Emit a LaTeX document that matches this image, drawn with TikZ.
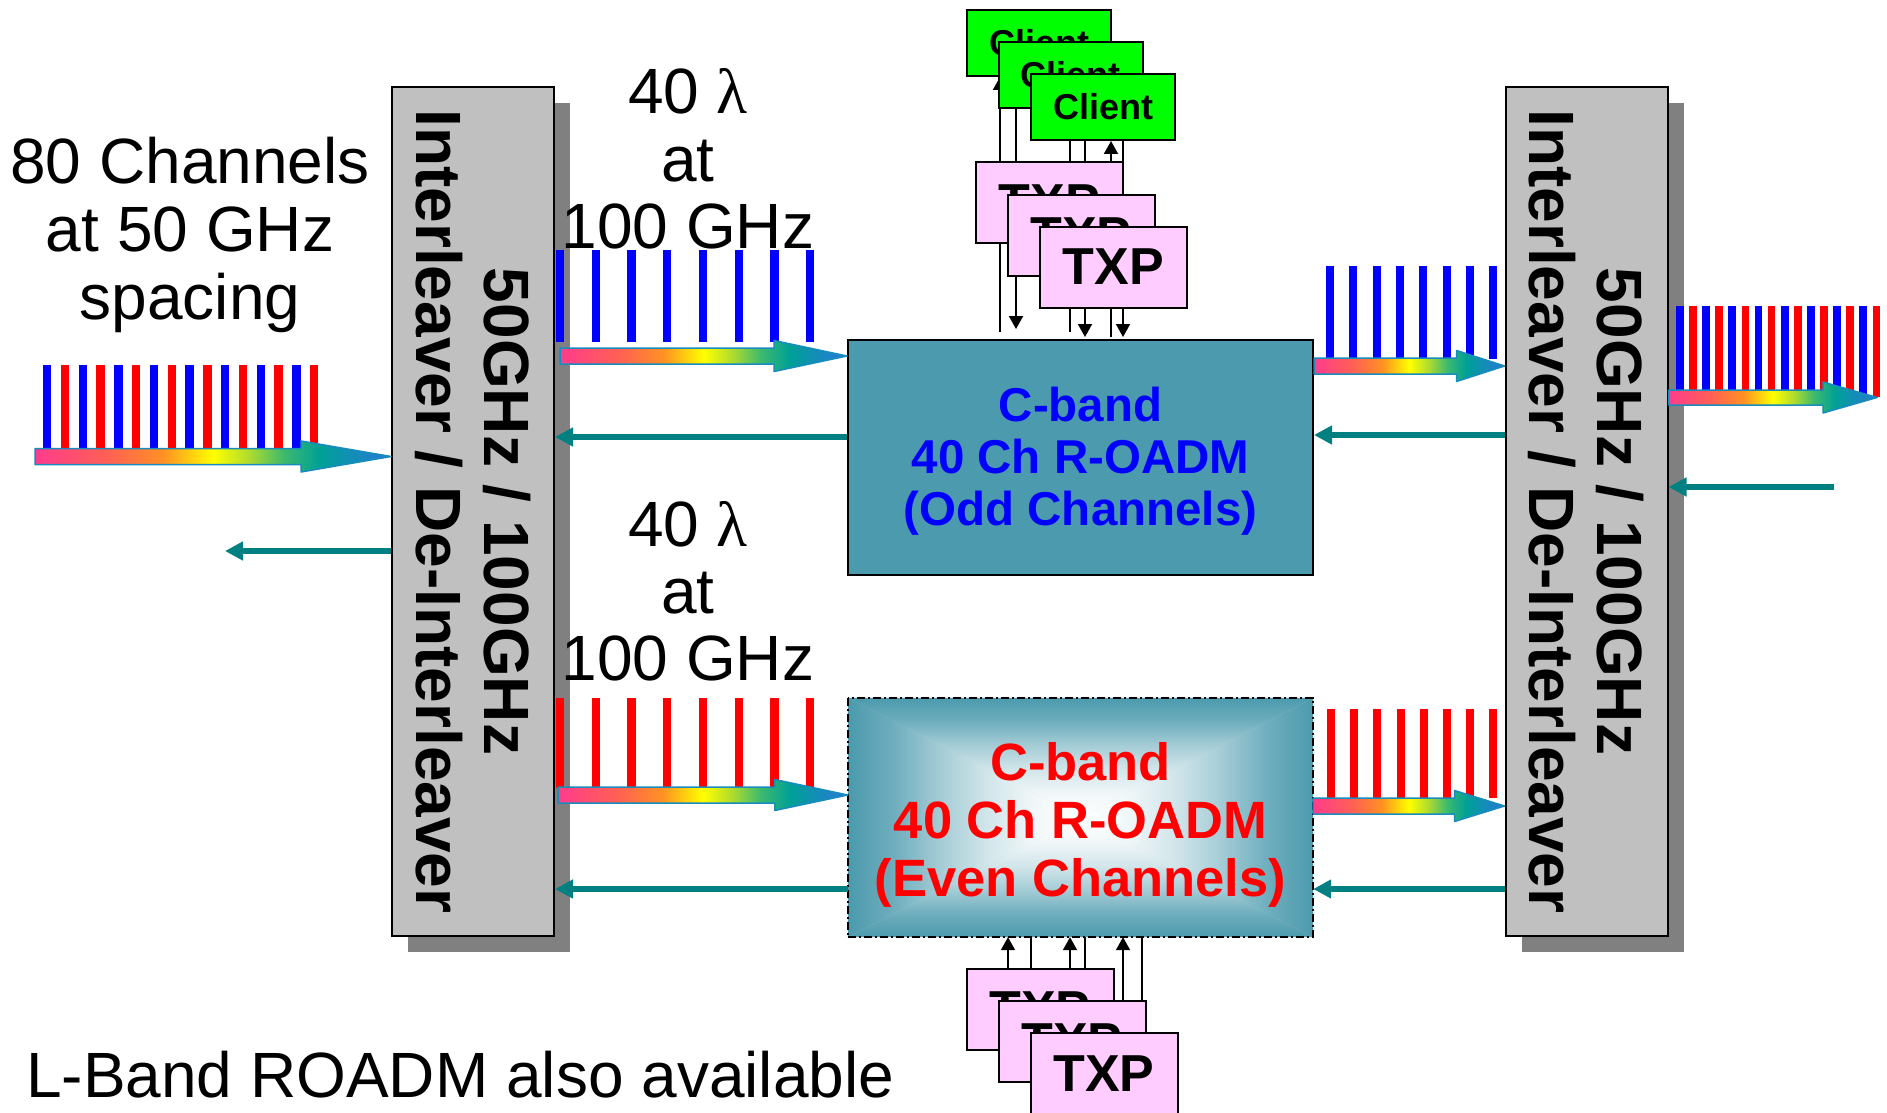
\documentclass[tikz,border=0pt]{standalone}
\usepackage{fontspec}
\setmainfont{Liberation Sans}
\newfontfamily\serifgreek{Liberation Serif}
\usetikzlibrary{arrows.meta,calc,shadows}
\pgfdeclarelayer{bg}
\pgfdeclarelayer{links}
\pgfsetlayers{bg,links,main}

\definecolor{roadm}{RGB}{75,154,173}
\definecolor{shadowgray}{RGB}{128,128,128}
\definecolor{ilvgray}{RGB}{192,192,192}
\definecolor{clientgreen}{RGB}{0,255,0}
\definecolor{txppink}{RGB}{255,204,255}
\definecolor{retteal}{RGB}{0,128,128}
\definecolor{arrowedge}{RGB}{25,140,190}
\definecolor{rbA}{RGB}{255,60,140}
\definecolor{rbB}{RGB}{255,95,85}
\definecolor{rbC}{RGB}{255,145,35}
\definecolor{rbD}{RGB}{255,255,0}
\definecolor{rbE}{RGB}{175,220,45}
\definecolor{rbF}{RGB}{60,185,110}
\definecolor{rbG}{RGB}{0,160,150}
\definecolor{rbH}{RGB}{40,120,220}

\pgfdeclarehorizontalshading{rainbow}{100bp}{color(0bp)=(rbA); color(25bp)=(rbA); color(35bp)=(rbB); color(43bp)=(rbC); color(50bp)=(rbD); color(55bp)=(rbE); color(60bp)=(rbF); color(65bp)=(rbG); color(75bp)=(rbH); color(100bp)=(rbH)}
\pgfdeclarehorizontalshading{hshE}{100bp}{color(0bp)=(roadm); color(25bp)=(roadm); color(35bp)=(roadm!80!white); color(45bp)=(roadm!50!white); color(55bp)=(roadm!25!white); color(65bp)=(roadm!8!white); color(75bp)=(white); color(100bp)=(white)}
\pgfdeclarehorizontalshading{hshC}{100bp}{color(0bp)=(white); color(25bp)=(white); color(35bp)=(roadm!8!white); color(45bp)=(roadm!25!white); color(55bp)=(roadm!50!white); color(65bp)=(roadm!80!white); color(75bp)=(roadm); color(100bp)=(roadm)}
\pgfdeclareverticalshading{vshE}{100bp}{color(0bp)=(roadm); color(25bp)=(roadm); color(35bp)=(roadm!80!white); color(45bp)=(roadm!50!white); color(55bp)=(roadm!25!white); color(65bp)=(roadm!8!white); color(75bp)=(white); color(100bp)=(white)}
\pgfdeclareverticalshading{vshC}{100bp}{color(0bp)=(white); color(25bp)=(white); color(35bp)=(roadm!8!white); color(45bp)=(roadm!25!white); color(55bp)=(roadm!50!white); color(65bp)=(roadm!80!white); color(75bp)=(roadm); color(100bp)=(roadm)}

\newcommand{\bigfont}{\fontsize{64}{67}\selectfont}
\newcommand{\rainarrow}[5]{%
  \shadedraw[shading=rainbow, draw=arrowedge, line width=1.5pt, line join=round]
    ($(#1)+(0,-#4)$) -- ($(#2)+(-#3,-#4)$) -- ($(#2)+(-#3,-#5)$) -- (#2)
    -- ($(#2)+(-#3,#5)$) -- ($(#2)+(-#3,#4)$) -- ($(#1)+(0,#4)$) -- cycle;}

\tikzset{
  ilv/.style={draw=black, line width=2pt, fill=ilvgray, minimum width=162pt, minimum height=849pt, inner sep=0pt,
    drop shadow={shadow xshift=16pt, shadow yshift=-16pt, fill=shadowgray, opacity=1}},
  ilvlbl/.style={rotate=-90, align=center, font=\fontsize{64}{68}\selectfont\bfseries},
  clientbox/.style={draw=black, line width=2pt, fill=clientgreen, minimum width=144pt, minimum height=66pt, inner sep=0pt,
    font=\fontsize{36}{40}\selectfont\bfseries},
  txpbox/.style={draw=black, line width=2pt, fill=txppink, minimum width=147pt, minimum height=81pt, inner sep=0pt,
    font=\fontsize{52}{56}\selectfont\bfseries},
  vl/.style={draw=black, line width=2pt},
  vtip/.style={-{Triangle[length=13pt,width=14pt]}},
  ret/.style={draw=retteal, line width=6pt, -{Triangle[length=18pt,width=18pt]}},
  freetext/.style={anchor=base, font=\bigfont, inner sep=0pt},
}

\begin{document}
\begin{tikzpicture}[x=1pt,y=-1pt]
\path[use as bounding box] (0,0) rectangle (1887,1113);
\clip (0,0) rectangle (1887,1113);
\begin{pgfonlayer}{bg}
\fill[white] (0,0) rectangle (1887,1113);
\end{pgfonlayer}

% interleavers
\node[ilv] (boxL) at (473,511.5) {};
\node[ilv] (boxR) at (1586.5,511.5) {};
\node[ilvlbl] (lblL) at (boxL.center) {50GHz / 100GHz\\Interleaver / De-Interleaver};
\node[ilvlbl] (lblR) at (boxR.center) {50GHz / 100GHz\\Interleaver / De-Interleaver};

% odd ROADM
\node[draw=black, line width=2pt, fill=roadm, minimum width=465pt, minimum height=235pt, inner sep=0pt] (odd) at (1080.5,457.5) {};
\node[align=center, text=blue, font=\fontsize{47.5}{52}\selectfont\bfseries, yshift=-4pt] (oddlbl) at (odd.center) {C-band\\40 Ch R-OADM\\(Odd Channels)};

% even ROADM
\node[minimum width=465pt, minimum height=239pt, inner sep=0pt] (even) at (1080.5,817.5) {};
\fill[roadm!40!white] (even.north west) rectangle (even.south east);
\shade[shading=vshC] (even.north west) -- (even.north east) -- (even.center) -- cycle;
\shade[shading=vshE] (even.south west) -- (even.south east) -- (even.center) -- cycle;
\shade[shading=hshE] (even.north west) -- (even.south west) -- (even.center) -- cycle;
\shade[shading=hshC] (even.north east) -- (even.south east) -- (even.center) -- cycle;
\draw[black, line width=2pt, dash pattern=on 8pt off 3pt on 2pt off 3pt] (even.north west) rectangle (even.south east);
\node[align=center, text=red, font=\fontsize{52.5}{58}\selectfont\bfseries, yshift=-7pt] (evenlbl) at (even.center) {C-band\\40 Ch R-OADM\\(Even Channels)};

% client / TXP stacks
\node[clientbox] (client1) at (1039,43) {Client};
\node[clientbox] (client2) at (1070.5,75) {Client};
\node[clientbox] (client3) at (1103,107) {Client};
\node[txpbox] (txpT1) at (1049.5,202.5) {TXP};
\node[txpbox] (txpT2) at (1081,235.5) {TXP};
\node[txpbox] (txpT3) at (1113.5,267) {TXP};
\node[txpbox] (txpB1) at (1040,1009.5) {TXP};
\node[txpbox] (txpB2) at (1072,1041.5) {TXP};
\node[txpbox] (txpB3) at (1104,1073.5) {TXP};

% x positions of the links
\coordinate (xa) at (1000,0);
\coordinate (xb) at (1016,0);
\coordinate (xc) at (1070,0);
\coordinate (xd) at (1085,0);
\coordinate (xe) at (1111,0);
\coordinate (xf) at (1123,0);
\coordinate (xg) at (1008,0);
\coordinate (xh) at (1031,0);
\coordinate (xi) at (1142,0);

\begin{pgfonlayer}{links}
% top links
\draw[vl, vtip, shorten <=7pt] (xa |- odd.north) -- (xa |- client1.south);
\draw[vl, vtip, shorten >=10pt] (xb |- client2.south) -- (xb |- odd.north);
\draw[vl, shorten >=7pt] (xc |- client3.south) -- (xc |- odd.north);
\draw[vl, vtip, shorten >=2pt] (xd |- client3.south) -- (xd |- odd.north);
\draw[vl, vtip, shorten <=2pt] (xe |- odd.north) -- (xe |- client3.south);
\draw[vl, vtip, shorten >=2pt] (xf |- client3.south) -- (xf |- odd.north);
% bottom links
\draw[vl, vtip] (xg |- txpB1.north) -- (xg |- even.south);
\draw[vl] (xh |- txpB1.north) -- (xh |- even.south);
\draw[vl, vtip] (xc |- txpB1.north) -- (xc |- even.south);
\draw[vl] (xd |- txpB1.north) -- (xd |- even.south);
\draw[vl, vtip] (xf |- txpB2.north) -- (xf |- even.south);
\draw[vl] (xi |- txpB2.north) -- (xi |- even.south);
\end{pgfonlayer}

% spectra
\foreach \i in {0,2,...,14} \fill[blue] ({43+\i*17.8},365) rectangle ++(8.3,84);
\foreach \i in {1,3,...,15} \fill[red] ({43+\i*17.8},365) rectangle ++(8.3,84);
\foreach \i in {0,...,7} \fill[blue] ({556+\i*35.7},250) rectangle ++(8.3,92);
\foreach \i in {0,...,7} \fill[red] ({556+\i*35.7},698) rectangle ++(8.3,90);
\foreach \i in {0,...,7} \fill[blue] ({1326+\i*23.3},266) rectangle ++(8,93);
\foreach \i in {0,...,7} \fill[red] ({1327+\i*23.2},709) rectangle ++(8,89);
\foreach \i in {0,2,...,14} \fill[blue] ({1676+\i*13.1},306) rectangle ++(7.7,91);
\foreach \i in {1,3,...,15} \fill[red] ({1676+\i*13.1},306) rectangle ++(7.7,91);

% rainbow arrows
\coordinate (gA) at (35,456.5);
\coordinate (gAt) at (gA -| boxL.west);
\rainarrow{gA}{gAt}{90}{8}{15.5}
\coordinate (gB) at (560,356);
\coordinate (gBt) at (gB -| odd.west);
\rainarrow{gB}{gBt}{73}{8}{15.5}
\coordinate (gC) at (558,795);
\coordinate (gCt) at (gC -| even.west);
\rainarrow{gC}{gCt}{73}{8}{15.5}
\path (odd.east) ++(0,-91.5) coordinate (gD);
\coordinate (gDt) at (gD -| boxR.west);
\rainarrow{gD}{gDt}{48}{8}{15.5}
\path (even.east) ++(0,-11.5) coordinate (gE);
\coordinate (gEt) at (gE -| boxR.west);
\rainarrow{gE}{gEt}{50}{8}{15.5}
\path (boxR.east) ++(0,-114) coordinate (gF);
\coordinate (gFt) at (1877,397.5);
\rainarrow{gF}{gFt}{54}{7.5}{15.5}

% return (teal) arrows
\path (odd.west) ++(0,-20.5) coordinate (rA);
\draw[ret] (rA) -- (rA -| boxL.east);
\path (even.west) ++(0,71.5) coordinate (rB);
\draw[ret] (rB) -- (rB -| boxL.east);
\path (boxR.west) ++(0,-76.5) coordinate (rC);
\draw[ret] (rC) -- (rC -| odd.east);
\path (boxR.west) ++(0,377.5) coordinate (rD);
\draw[ret] (rD) -- (rD -| even.east);
\coordinate (rE) at (1834,487);
\draw[ret] (rE) -- (rE -| boxR.east);
\path (boxL.west) ++(0,39.5) coordinate (rF);
\coordinate (rFend) at (225,551);
\draw[ret] (rF) -- (rFend);

% free texts
\node[freetext] (ch1) at (190,183) {80 Channels};
\node[freetext] (ch2) at (190,251) {at 50 GHz};
\node[freetext] (ch3) at (190,319) {spacing};
\node[freetext] (la1) at (688,114) {40 {\serifgreek λ}};
\node[freetext] (la2) at (688,181) {at};
\node[freetext] (la3) at (688,248) {100 GHz};
\node[freetext] (lb1) at (688,546) {40 {\serifgreek λ}};
\node[freetext] (lb2) at (688,613) {at};
\node[freetext] (lb3) at (688,680) {100 GHz};
\node[freetext, anchor=base west] (lband) at (26,1097) {L-Band ROADM also available};
\end{tikzpicture}
\end{document}
